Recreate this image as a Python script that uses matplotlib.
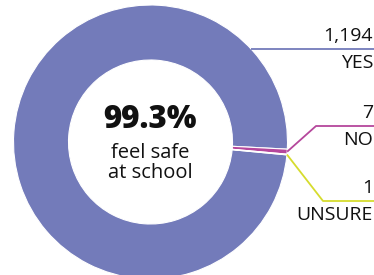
import numpy as np
import matplotlib.pyplot as plt

plt.rcParams['font.family'] = ['Open Sans', 'DejaVu Sans']

# data
labels = ["YES", "NO", "UNSURE"]
counts = [1194, 7, 1]
count_text = ["1,194", "7", "1"]
colors = ["#737bba", "#b5479c", "#d6dc2e"]
headline = "99.3%"
subline = "feel safe\nat school"

W, H = 374, 275
fig = plt.figure(figsize=(W / 100, H / 100), dpi=100)
ax = fig.add_axes([0, 0, 1, 1])

cx, cy = 150.5, H - 142
r_out, r_in = 137, 82

wedges, _ = ax.pie(counts, colors=colors, center=(cx, cy), radius=r_out,
                   startangle=-5.4, counterclock=False,
                   wedgeprops=dict(width=r_out - r_in, edgecolor="white", linewidth=0.8))

ax.set_xlim(0, W)
ax.set_ylim(0, H)
ax.set_aspect("equal")
ax.axis("off")

# label rows (pixel y of the leader line, elbow x)
line_y = [H - 49, H - 126, H - 201]
elbow_x = [None, 316, 323]

for i, w in enumerate(wedges):
    ly = line_y[i]
    if elbow_x[i] is None:
        # horizontal line touching the ring
        dy = ly - cy
        x0 = cx + np.sqrt(r_out ** 2 - dy ** 2)
        xs, ys = [x0, W], [ly, ly]
    else:
        mid = np.deg2rad((w.theta1 + w.theta2) / 2)
        x0 = cx + r_out * np.cos(mid)
        y0 = cy + r_out * np.sin(mid)
        xs, ys = [x0, elbow_x[i], W], [y0, ly, ly]
    ax.plot(xs, ys, color=colors[i], lw=1.3, solid_capstyle="butt", zorder=3)
    ax.text(W - 1, ly + 4, count_text[i], ha="right", va="bottom", fontsize=14, color="#111111")
    ax.text(W - 1, ly - 5, labels[i], ha="right", va="top", fontsize=14, color="#111111")

ax.text(cx, H - 120, headline, ha="center", va="center", fontsize=22.5, fontweight="heavy", color="#111111")
ax.text(cx, H - 163, subline, ha="center", va="center", fontsize=14.5, color="#111111", linespacing=1.05)

fig.savefig("out.png", dpi=100)
